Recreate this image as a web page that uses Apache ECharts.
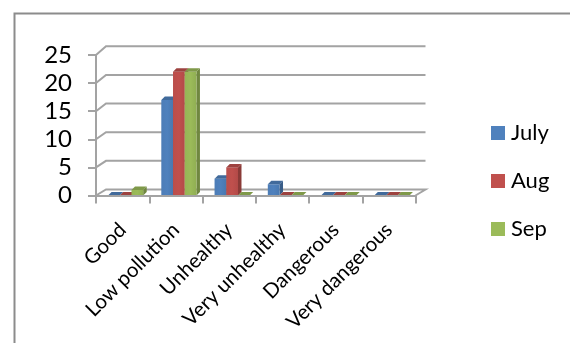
<!DOCTYPE html>
<html>
<head>
<meta charset="utf-8">
<script src="https://cdn.jsdelivr.net/npm/echarts@6/dist/echarts.min.js"></script>
<style>
  html, body { margin: 0; padding: 0; background: #fff; }
  #chart { width: 570px; height: 343px; }
</style>
</head>
<body>
<div id="chart"></div>
<script>
// Air quality classes and monthly day counts
const categories = ['Good', 'Low pollution', 'Unhealthy', 'Very unhealthy', 'Dangerous', 'Very dangerous'];
const july = [0, 17, 3, 2, 0, 0];
const aug = [0, 22, 5, 0, 0, 0];
const sep = [1, 22, 0, 0, 0, 0];
const yTicks = [0, 5, 10, 15, 20, 25];

const FONT = 'Lato, "Open Sans", sans-serif';
const GRID_GRAY = '#a3a3a3';

// depth of the back wall relative to the front plane
const WALL_DX = 10;
function wallDy(v) { return -(6 + v * 0.11); }

function shade(hex, f) {
  const n = parseInt(hex.slice(1), 16);
  const r = Math.round(((n >> 16) & 255) * f);
  const g = Math.round(((n >> 8) & 255) * f);
  const b = Math.round((n & 255) * f);
  return 'rgb(' + r + ',' + g + ',' + b + ')';
}

// back wall gridlines, left-wall diagonals and floor outline
function renderWall(params, api) {
  const v = api.value(0);
  const band = api.size([1, 0])[0];
  const pL = api.coord([0, v]);
  const pR = api.coord([categories.length - 1, v]);
  const xL = pL[0] - band / 2;
  const xR = pR[0] + band / 2;
  const y = pL[1];
  const dy = wallDy(v);
  const pts = [[xL, y], [xL + WALL_DX, y + dy], [xR + WALL_DX, y + dy]];
  if (v === 0) pts.push([xR, y]);
  return {
    type: 'polyline',
    shape: { points: pts },
    style: { stroke: GRID_GRAY, lineWidth: 2, fill: null }
  };
}

// a column drawn as a box: front face, top face and right side face
function makeBarRenderer(slot, color) {
  const D = 3.5;
  return function (params, api) {
    const idx = api.value(0);
    const val = api.value(1);
    const band = api.size([1, 0])[0];
    const barW = band * 0.22;
    const base = api.coord([idx, 0]);
    const top = api.coord([idx, val]);
    const x = base[0] - 1.5 * barW + slot * barW + 3;
    const yb = base[1];
    const yt = top[1];
    const children = [];
    children.push({
      type: 'polygon',
      shape: { points: [[x + barW, yt], [x + barW + D, yt - D], [x + barW + D, yb - D], [x + barW, yb]] },
      style: { fill: shade(color, 0.72) }
    });
    if (yb - yt > 0.5) {
      children.push({
        type: 'rect',
        shape: { x: x, y: yt, width: barW, height: yb - yt },
        style: {
          fill: {
            type: 'linear', x: 0, y: 0, x2: 1, y2: 0,
            colorStops: [
              { offset: 0, color: shade(color, 0.97) },
              { offset: 0.5, color: color },
              { offset: 1, color: shade(color, 0.93) }
            ]
          }
        }
      });
    }
    children.push({
      type: 'polygon',
      shape: { points: [[x, yt], [x + barW, yt], [x + barW + D, yt - D], [x + D, yt - D]] },
      style: { fill: shade(color, 0.82) }
    });
    return { type: 'group', children: children };
  };
}

const months = [
  { name: 'July', data: july, color: '#4F81BD' },
  { name: 'Aug', data: aug, color: '#C0504D' },
  { name: 'Sep', data: sep, color: '#9BBB59' }
];

const chart = echarts.init(document.getElementById('chart'), null, { renderer: 'canvas' });

const series = [{
  name: 'wall',
  type: 'custom',
  renderItem: renderWall,
  data: yTicks.map(v => [v]),
  encode: { y: 0 },
  silent: true,
  z: 1
}];

months.forEach((m, i) => {
  series.push({
    name: m.name,
    type: 'custom',
    renderItem: makeBarRenderer(i, m.color),
    data: m.data.map((v, k) => [k, v]),
    encode: { x: 0, y: 1 },
    itemStyle: { color: m.color },
    z: 2 + i
  });
});

chart.setOption({
  animation: false,
  backgroundColor: '#fff',
  graphic: [{
    type: 'rect',
    left: 12, top: 11,
    shape: { width: 620, height: 400 },
    style: { fill: null, stroke: '#8c8c8c', lineWidth: 2 },
    z: 0
  }],
  grid: { left: 96, right: 154.5, top: 55, bottom: 147.5, containLabel: false },
  xAxis: {
    type: 'category',
    data: categories,
    boundaryGap: true,
    axisLine: { show: true, lineStyle: { color: GRID_GRAY, width: 2 } },
    axisTick: { show: true, length: 8, interval: 0, lineStyle: { color: GRID_GRAY, width: 2 } },
    axisLabel: { interval: 0, rotate: 45, margin: 31, fontSize: 20.5, color: '#000', fontFamily: FONT },
    splitLine: { show: false },
    z: 5
  },
  yAxis: {
    type: 'value',
    min: 0, max: 25, interval: 5,
    axisLine: { show: true, lineStyle: { color: GRID_GRAY, width: 2 } },
    axisTick: { show: true, length: 8, inside: false, lineStyle: { color: GRID_GRAY, width: 2 } },
    axisLabel: { fontSize: 24, color: '#000', margin: 24, fontFamily: FONT },
    splitLine: { show: false }
  },
  legend: {
    orient: 'vertical',
    left: 486, top: 117,
    itemWidth: 14, itemHeight: 14, itemGap: 26,
    icon: 'rect',
    data: months.map(m => m.name),
    textStyle: { fontSize: 22, color: '#000', fontFamily: FONT, padding: [0, 0, 0, 1] }
  },
  series: series
});
</script>
</body>
</html>
